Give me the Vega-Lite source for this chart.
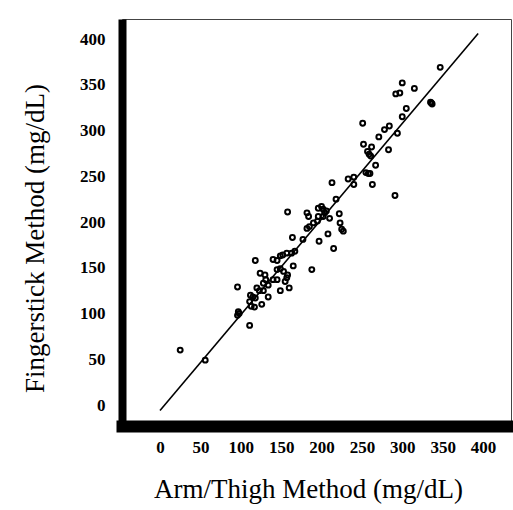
{
  "$schema": "https://vega.github.io/schema/vega-lite/v6.json",
  "autosize": "none",
  "width": 389,
  "height": 407,
  "padding": {"left": 122, "top": 19, "right": 2, "bottom": 84},
  "background": "white",
  "config": {
    "view": {"stroke": "#444", "strokeWidth": 1},
    "axis": {
      "grid": false,
      "ticks": false,
      "tickSize": 0,
      "domainColor": "black",
      "labelFont": "Liberation Serif",
      "labelFontWeight": "bold",
      "labelFontSize": 17,
      "labelColor": "black",
      "titleFont": "Liberation Serif",
      "titleFontWeight": "normal",
      "titleFontSize": 27,
      "titleColor": "black"
    }
  },
  "datasets": {
    "pts": [
      {"x": 25, "y": 60}, {"x": 56, "y": 49},
      {"x": 96, "y": 129},
      {"x": 97, "y": 102}, {"x": 98, "y": 100}, {"x": 96, "y": 98},
      {"x": 111, "y": 87},
      {"x": 111, "y": 113}, {"x": 113, "y": 108}, {"x": 117, "y": 107}, {"x": 126, "y": 110},
      {"x": 112, "y": 120}, {"x": 115, "y": 118}, {"x": 118, "y": 117},
      {"x": 134, "y": 118},
      {"x": 120, "y": 128}, {"x": 123, "y": 125}, {"x": 128, "y": 125},
      {"x": 128, "y": 133}, {"x": 134, "y": 131},
      {"x": 131, "y": 137}, {"x": 140, "y": 137}, {"x": 145, "y": 137}, {"x": 157, "y": 139}, {"x": 158, "y": 142}, {"x": 155, "y": 135},
      {"x": 124, "y": 144}, {"x": 130, "y": 142},
      {"x": 149, "y": 149}, {"x": 153, "y": 146}, {"x": 145, "y": 148},
      {"x": 118, "y": 158},
      {"x": 140, "y": 159}, {"x": 145, "y": 158}, {"x": 149, "y": 163},
      {"x": 152, "y": 164}, {"x": 157, "y": 166}, {"x": 163, "y": 166}, {"x": 167, "y": 168},
      {"x": 165, "y": 152},
      {"x": 149, "y": 125}, {"x": 160, "y": 128},
      {"x": 164, "y": 183},
      {"x": 158, "y": 211},
      {"x": 177, "y": 181},
      {"x": 182, "y": 210}, {"x": 184, "y": 206},
      {"x": 182, "y": 193}, {"x": 185, "y": 195},
      {"x": 188, "y": 148},
      {"x": 190, "y": 199}, {"x": 195, "y": 201},
      {"x": 196, "y": 215}, {"x": 202, "y": 214}, {"x": 200, "y": 217}, {"x": 204, "y": 210}, {"x": 210, "y": 204}, {"x": 206, "y": 212},
      {"x": 196, "y": 206}, {"x": 202, "y": 206},
      {"x": 197, "y": 179},
      {"x": 208, "y": 187},
      {"x": 213, "y": 243},
      {"x": 215, "y": 171},
      {"x": 218, "y": 225},
      {"x": 222, "y": 209}, {"x": 223, "y": 199}, {"x": 225, "y": 192}, {"x": 227, "y": 190},
      {"x": 233, "y": 247}, {"x": 240, "y": 249}, {"x": 240, "y": 241},
      {"x": 251, "y": 308},
      {"x": 252, "y": 285},
      {"x": 257, "y": 277}, {"x": 259, "y": 274}, {"x": 261, "y": 272},
      {"x": 255, "y": 254}, {"x": 258, "y": 253}, {"x": 260, "y": 253},
      {"x": 262, "y": 282},
      {"x": 263, "y": 241},
      {"x": 267, "y": 262},
      {"x": 271, "y": 293},
      {"x": 278, "y": 301}, {"x": 284, "y": 305},
      {"x": 283, "y": 279},
      {"x": 291, "y": 229},
      {"x": 292, "y": 340}, {"x": 297, "y": 341},
      {"x": 294, "y": 297},
      {"x": 300, "y": 352},
      {"x": 300, "y": 315},
      {"x": 305, "y": 324},
      {"x": 315, "y": 346},
      {"x": 336, "y": 330}, {"x": 335, "y": 331}, {"x": 337, "y": 329},
      {"x": 347, "y": 369}
    ],
    "fit": [
      {"x": 0, "y": -6},
      {"x": 394, "y": 406}
    ]
  },
  "layer": [
    {
      "data": {"name": "fit"},
      "mark": {"type": "line", "color": "black", "strokeWidth": 1.6},
      "encoding": {
        "x": {"field": "x", "type": "quantitative"},
        "y": {"field": "y", "type": "quantitative"}
      }
    },
    {
      "data": {"name": "pts"},
      "mark": {"type": "point", "shape": "circle", "filled": false, "color": "black", "size": 24, "strokeWidth": 2, "opacity": 1},
      "encoding": {
        "x": {
          "field": "x", "type": "quantitative",
          "scale": {"domain": [-47.06, 434.67], "nice": false, "zero": false},
          "axis": {
            "title": "Arm/Thigh Method (mg/dL)",
            "values": [0, 50, 100, 150, 200, 250, 300, 350, 400],
            "domainWidth": 12,
            "domainCap": "square",
            "labelPadding": 13,
            "labelBaseline": "top",
            "titleX": 186,
            "titleY": 63,
            "titleBaseline": "middle",
            "titleAlign": "center"
          }
        },
        "y": {
          "field": "y", "type": "quantitative",
          "scale": {"domain": [-22.95, 421.86], "nice": false, "zero": false},
          "axis": {
            "title": "Fingerstick Method (mg/dL)",
            "values": [0, 50, 100, 150, 200, 250, 300, 350, 400],
            "domainWidth": 8,
            "labelPadding": 17,
            "labelBaseline": "middle",
            "titleX": -87,
            "titleY": 219,
            "titleAngle": -90,
            "titleBaseline": "middle",
            "titleAlign": "center"
          }
        }
      }
    }
  ]
}
